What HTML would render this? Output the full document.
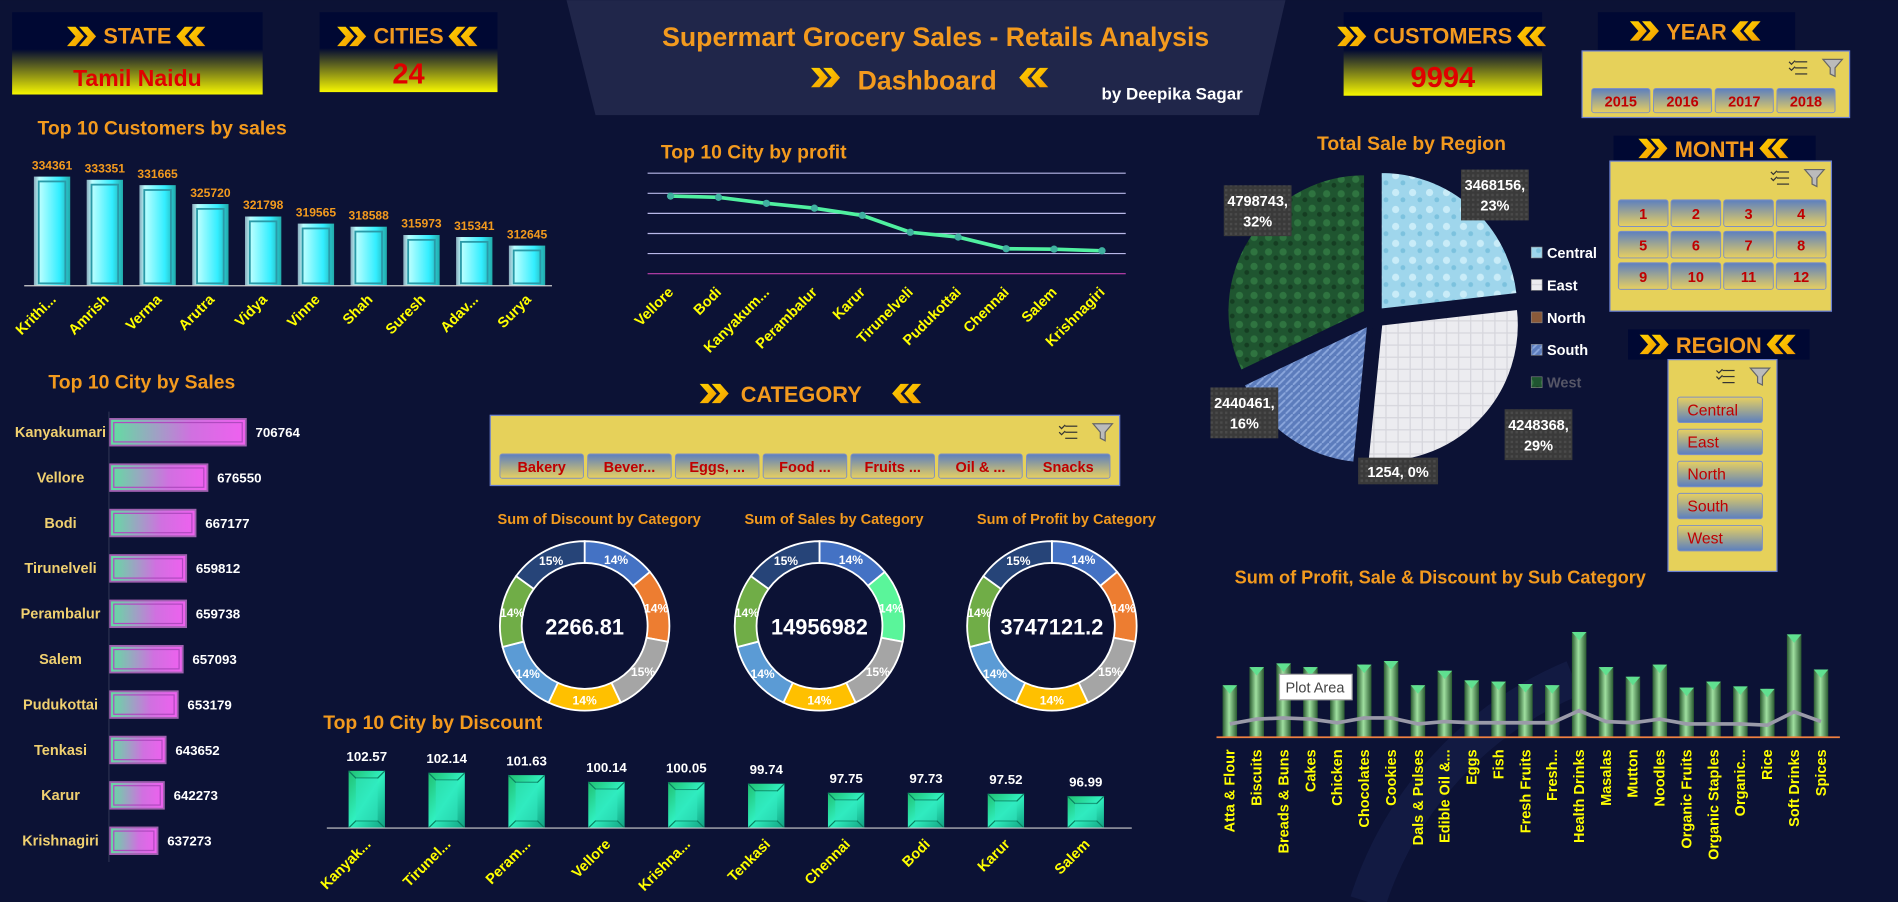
<!DOCTYPE html>
<html><head><meta charset="utf-8"><title>Supermart Grocery Sales Dashboard</title>
<style>
html,body{margin:0;padding:0;background:#0c1235;overflow:hidden}
svg{display:block;font-family:"Liberation Sans",sans-serif}
.t{font-family:"Liberation Sans",sans-serif;font-weight:bold}
</style></head>
<body>
<svg id="dash" width="1898" height="902" viewBox="0 0 1568 745" xmlns="http://www.w3.org/2000/svg">
<defs>
<linearGradient id="kpi" x1="0" y1="0" x2="0" y2="1"><stop offset="0" stop-color="#000833"/><stop offset="0.45" stop-color="#000833"/><stop offset="1" stop-color="#f7f700"/></linearGradient>
<linearGradient id="chev" x1="0" y1="0" x2="1" y2="1"><stop offset="0" stop-color="#ffd400"/><stop offset="1" stop-color="#f39a00"/></linearGradient>
<linearGradient id="cyan" x1="0" y1="0" x2="1" y2="0"><stop offset="0" stop-color="#8ab"/><stop offset="0.15" stop-color="#bff"/><stop offset="0.7" stop-color="#3ef"/><stop offset="1" stop-color="#2aa"/></linearGradient>
<linearGradient id="pink" x1="0" y1="0" x2="1" y2="0"><stop offset="0" stop-color="#5fe0a0"/><stop offset="0.6" stop-color="#d070e0"/><stop offset="1" stop-color="#f060f0"/></linearGradient>
<linearGradient id="teal" x1="0" y1="0" x2="1" y2="1"><stop offset="0" stop-color="#20c070"/><stop offset="0.5" stop-color="#30f0c0"/><stop offset="1" stop-color="#10a080"/></linearGradient>
<linearGradient id="green" x1="0" y1="0" x2="1" y2="0"><stop offset="0" stop-color="#2a5a30"/><stop offset="0.45" stop-color="#a0e0a0"/><stop offset="1" stop-color="#2a5a30"/></linearGradient>
<linearGradient id="btn" x1="0" y1="0" x2="0" y2="1"><stop offset="0" stop-color="#5b7fc0"/><stop offset="1" stop-color="#e8d060"/></linearGradient>
<linearGradient id="btn2" x1="0" y1="0" x2="0" y2="1"><stop offset="0" stop-color="#e8d060"/><stop offset="1" stop-color="#5b7fc0"/></linearGradient>
<pattern id="water" width="14" height="14" patternUnits="userSpaceOnUse"><rect width="14" height="14" fill="#9fd6ec"/><circle cx="5" cy="5" r="3" fill="#c9ecf8"/><circle cx="11" cy="11" r="2" fill="#7cc2de"/></pattern>
<pattern id="paper" width="10" height="10" patternUnits="userSpaceOnUse"><rect width="10" height="10" fill="#ececf0"/><path d="M0 5 L10 5 M5 0 L5 10" stroke="#d6d6dc" stroke-width="1"/></pattern>
<pattern id="denim" width="6" height="6" patternUnits="userSpaceOnUse"><rect width="6" height="6" fill="#5c7cbc"/><path d="M0 6 L6 0" stroke="#8aa6dc" stroke-width="1.5"/></pattern>
<pattern id="leaf" width="12" height="12" patternUnits="userSpaceOnUse"><rect width="12" height="12" fill="#1f5530"/><circle cx="4" cy="4" r="3" fill="#2f7440"/><circle cx="10" cy="9" r="2" fill="#153d22"/></pattern>
<pattern id="lbl" width="4" height="4" patternUnits="userSpaceOnUse"><rect width="4" height="4" fill="#3a3a3a"/><rect width="2" height="2" fill="#4a4a4a"/></pattern>
</defs>
<rect width="1568" height="745" fill="#0c1235"/>
<path d="M1130 745 A300 300 0 0 1 1300 560" stroke="#121a42" stroke-width="30" fill="none"/>

<g>
<polygon points="468,0 1062,0 1040,95 492,95" fill="#20264a"/>
<text class="t" x="773" y="38" text-anchor="middle" font-size="22" fill="#f39a1e" textLength="452" lengthAdjust="spacingAndGlyphs">Supermart Grocery Sales - Retails Analysis</text>
<text class="t" x="766" y="74" text-anchor="middle" font-size="22" fill="#f39a1e">Dashboard</text>
<text class="t" x="910" y="82" font-size="14" fill="#ffffff">by Deepika Sagar</text>
</g>

<g id="kpis"></g>
<g id="slicers"></g>
<g id="charts"></g>
</svg>
<script>
const NS='http://www.w3.org/2000/svg';
const root=document.getElementById('charts');
function mk(tag,attrs,parent,txt){const e=document.createElementNS(NS,tag);for(const k in attrs)e.setAttribute(k,attrs[k]);if(txt!==undefined)e.textContent=txt;(parent||root).appendChild(e);return e;}

// ---------- data ----------
const custNames=["Krithi...","Amrish","Verma","Arutra","Vidya","Vinne","Shah","Suresh","Adav...","Surya"];
const custSales=[334361,333351,331665,325720,321798,319565,318588,315973,315341,312645];
const profitCities=["Vellore","Bodi","Kanyakum...","Perambalur","Karur","Tirunelveli","Pudukottai","Chennai","Salem","Krishnagiri"];
const profitValues=[169300,169000,167500,166300,164500,160300,159100,156200,156100,155700];
const profitTicks=[150000,155000,160000,165000,170000,175000];
const salesCities=["Kanyakumari","Vellore","Bodi","Tirunelveli","Perambalur","Salem","Pudukottai","Tenkasi","Karur","Krishnagiri"];
const salesValues=[706764,676550,667177,659812,659738,657093,653179,643652,642273,637273];
const discCities=["Kanyak...","Tirunel...","Peram...","Vellore","Krishna...","Tenkasi","Chennai","Bodi","Karur","Salem"];
const discValues=[102.57,102.14,101.63,100.14,100.05,99.74,97.75,97.73,97.52,96.99];
const regionNames=["Central","East","North","South","West"];
const regionSales=[3468156,4248368,1254,2440461,4798743];
const regionPct=["23%","29%","0%","16%","32%"];
const catShares=[14,14,15,14,14,14,15];
const donutTitles=["Sum of Discount  by Category","Sum of Sales by Category","Sum of Profit by Category"];
const donutTotals=["2266.81","14956982","3747121.2"];
const subCats=["Atta & Flour","Biscuits","Breads & Buns","Cakes","Chicken","Chocolates","Cookies","Dals & Pulses","Edible Oil &...","Eggs","Fish","Fresh Fruits","Fresh...","Health Drinks","Masalas","Mutton","Noodles","Organic Fruits","Organic Staples","Organic...","Rice","Soft Drinks","Spices"];
const subSales=[516000,696000,732000,696000,588000,720000,756000,516000,660000,564000,552000,528000,516000,1044000,696000,600000,720000,492000,552000,504000,480000,1020000,672000];
const subProfit=[132000,180000,192000,180000,144000,192000,192000,132000,156000,144000,144000,144000,144000,264000,156000,144000,180000,132000,132000,132000,120000,252000,156000];

// ---------- helpers ----------
function chevrons(x,y,dir,parent){
  for(let k=0;k<2;k++){
    const ox=x+k*10;
    const pts=dir>0?`${ox},${y} ${ox+7},${y} ${ox+14},${y+8} ${ox+7},${y+16} ${ox},${y+16} ${ox+7},${y+8}`
                   :`${ox+14},${y} ${ox+7},${y} ${ox},${y+8} ${ox+7},${y+16} ${ox+14},${y+16} ${ox+7},${y+8}`;
    const p=mk('polygon',{points:pts,fill:'url(#chev)'},parent);
    
    
  }
}
chevrons(670,56,1,root);
chevrons(842,56,-1,root);
function title(x,y,txt,name,size){
  const t=mk('text',{x:x,y:y,'font-size':size||16,fill:'#f39a1e',class:'t'},root,txt);
  
  
  return t;
}

// ---------- KPIs ----------
const kp=document.getElementById('kpis');
function kpi(x,y,w,h,label,val,name,vs){
  const g=mk('g',{},kp);
  
  
  mk('rect',{x:x,y:y,width:w,height:h,fill:'url(#kpi)'},g);
  const cx=x+w/2;
  const t=mk('text',{x:cx,y:y+26,'font-size':18,fill:'#f39a1e','text-anchor':'middle',class:'t'},g,label);
  const tw=t.getComputedTextLength();
  chevrons(cx-tw/2-30,y+12,1,g);
  chevrons(cx+tw/2+4,y+12,-1,g);
  const v=mk('text',{x:cx,y:y+h-7,'font-size':vs,fill:'#e00000','text-anchor':'middle',class:'t'},g,val);
  
  
}
kpi(10,10,207,68,'STATE','Tamil Naidu','state-card',19);
kpi(264,10,147,66,'CITIES','24','cities-card',24);
kpi(1110,10,164,69,'CUSTOMERS','9994','customers-card',24);

// ---------- slicers ----------
const sl=document.getElementById('slicers');
function slicerHead(x,y,w,h,label,name){
  const g=mk('g',{},sl);
  
  
  mk('rect',{x:x,y:y,width:w,height:h,fill:'#000833'},g);
  const cx=x+w/2;
  const t=mk('text',{x:cx,y:y+h/2+7,'font-size':18,fill:'#f39a1e','text-anchor':'middle',class:'t'},g,label);
  const tw=t.getComputedTextLength();
  chevrons(cx-tw/2-30,y+h/2-8,1,g);
  chevrons(cx+tw/2+4,y+h/2-8,-1,g);
}
function slicerBody(x,y,w,h,name){
  const g=mk('g',{},sl);
  
  
  mk('rect',{x:x,y:y,width:w,height:h,fill:'#e6d15a',stroke:'#6a7fd0','stroke-width':1},g);
  const ix=x+w-50, iy=y+6;
  for(let k=0;k<3;k++) mk('line',{x1:ix+5,y1:iy+3+k*5,x2:ix+15,y2:iy+3+k*5,stroke:'#333','stroke-width':1},g);
  mk('path',{d:`M${ix} ${iy+3} l2 2 l3 -3 M${ix} ${iy+8} l2 2 l3 -3`,stroke:'#333',fill:'none'},g);
  mk('path',{d:`M${ix+28} ${iy+1} h16 l-6 7 v7 l-4 -2 v-5 z`,fill:'#bbb',stroke:'#666'},g);
  return g;
}
function button(g,x,y,w,h,label,name){
  const b=mk('g',{},g);
  
  
  mk('rect',{x:x,y:y,width:w,height:h,fill:'url(#btn)',stroke:'#8090c0','stroke-width':0.8,rx:2},b);
  mk('text',{x:x+w/2,y:y+h/2+5,'font-size':12,fill:'#c00000','text-anchor':'middle',class:'t'},b,label);
}
slicerHead(1320,10,163,31,'YEAR','year-slicer-header');
let gy=slicerBody(1307,42,221,55,'year-slicer');
["2015","2016","2017","2018"].forEach((yv,i)=>button(gy,1315+i*51,73,48,20,yv,'year-button'));
slicerHead(1333,112,167,21,'MONTH','month-slicer-header');
let gm=slicerBody(1330,133,183,124,'month-slicer');
for(let m=0;m<12;m++){button(gm,1337+(m%4)*43.5,165+Math.floor(m/4)*26,41,22,String(m+1),'month-button');}
slicerHead(1345,272,150,25,'REGION','region-slicer-header');
let gr=slicerBody(1378,297,90,175,'region-slicer');
regionNames.forEach((r,i)=>{
  const b=mk('g',{},gr);
  
  
  mk('rect',{x:1386,y:328+i*26.5,width:70,height:21,fill:'url(#btn2)',stroke:'#8090c0','stroke-width':0.8,rx:2},b);
  mk('text',{x:1394,y:343+i*26.5,'font-size':13,fill:'#c00000'},b,r);
});
title(612,332,'CATEGORY','category-slicer-header',18);
chevrons(578,317,1,root); chevrons(737,317,-1,root);
let gc=slicerBody(405,343,520,58,'category-slicer');
["Bakery","Bever...","Eggs, ...","Food ...","Fruits ...","Oil & ...","Snacks"].forEach((c,i)=>button(gc,413+i*72.5,375,69,20,c,'category-button'));

// ---------- Top 10 customers ----------
title(31,111,'Top 10 Customers by sales','customers-chart-title',16);
const cyB=236, cyMin=300000, cyK=0.002625;
const cx0=43, cdx=43.6;
custSales.forEach((v,i)=>{
  const x=cx0+i*cdx, h=(v-cyMin)*cyK;
  const g=mk('g',{});
  
  
  mk('rect',{x:x-15,y:cyB-h,width:30,height:h,fill:'url(#cyan)'},g);
  mk('rect',{x:x-11,y:cyB-h+4,width:22,height:h-6,fill:'none',stroke:'#2a9aa8','stroke-width':1.5},g);
  const t=mk('text',{x:x,y:cyB-h-6,'font-size':10,fill:'#f39a1e','text-anchor':'middle',class:'t'},root,String(v));
  
  
  const l=mk('text',{x:x+4,y:cyB+12,'font-size':12,fill:'#ffff00','text-anchor':'end',class:'t',transform:`rotate(-45 ${x+4} ${cyB+12})`},root,custNames[i]);
  
  
});
mk('line',{x1:20,y1:cyB,x2:456,y2:cyB,stroke:'#d0d0d0','stroke-width':1});

// ---------- Top 10 City by profit ----------
title(546,131,'Top 10 City by profit','profit-chart-title',16);
const pB=226, pMin=150000, pK=83/25000, px0=554, pdx=39.6;
profitTicks.forEach((tv,i)=>{
  const y=pB-(tv-pMin)*pK;
  const l=mk('line',{x1:535,y1:y,x2:930,y2:y,stroke:i===0?'#c040b0':'#b8b8e8','stroke-width':1});
  
  
});
let pts=profitValues.map((v,i)=>`${px0+i*pdx},${pB-(v-pMin)*pK}`).join(' ');
const pl=mk('polyline',{points:pts,fill:'none',stroke:'#50f0a0','stroke-width':3});


profitValues.forEach((v,i)=>{
  const c=mk('circle',{cx:px0+i*pdx,cy:pB-(v-pMin)*pK,r:3,fill:'#40b0a0'});
  
  
  const x=px0+i*pdx;
  const l=mk('text',{x:x+3,y:pB+16,'font-size':12,fill:'#ffff00','text-anchor':'end',class:'t',transform:`rotate(-45 ${x+3} ${pB+16})`},root,profitCities[i]);
  
  
});

// ---------- Pie ----------
title(1088,124,'Total Sale by Region','region-pie-title',16);
const pcx=1135, pcy=262, pr=113;
const pieFills=['url(#water)','url(#paper)','#8a5a3a','url(#denim)','url(#leaf)'];
const totalR=regionSales.reduce((a,b)=>a+b,0);
let ang=-90;
regionSales.forEach((v,i)=>{
  const sweep=v/totalR*360;
  const a0=ang*Math.PI/180, a1=(ang+sweep)*Math.PI/180, am=(ang+sweep/2)*Math.PI/180;
  const ox=pcx+Math.cos(am)*9, oy=pcy+Math.sin(am)*9;
  const large=sweep>180?1:0;
  const d=`M${ox} ${oy} L${ox+pr*Math.cos(a0)} ${oy+pr*Math.sin(a0)} A${pr} ${pr} 0 ${large} 1 ${ox+pr*Math.cos(a1)} ${oy+pr*Math.sin(a1)} Z`;
  const p=mk('path',{d:d,fill:pieFills[i],stroke:'#0c1235','stroke-width':1});
  
  
  ang+=sweep;
});
[[1207,140,0],[1243,338,1],[1122,378,2],[1000,320,3],[1011,153,4]].forEach(([x,y,i])=>{
  const g=mk('g',{});
  
  
  const pct=regionPct[i];
  const one=i===2;
  mk('rect',{x:x,y:y,width:one?66:56,height:one?22:42,fill:'url(#lbl)'},g);
  if(one){mk('text',{x:x+33,y:y+16,'font-size':12,fill:'#fff','text-anchor':'middle',class:'t'},g,regionSales[i]+', '+pct);}
  else{mk('text',{x:x+28,y:y+17,'font-size':12,fill:'#fff','text-anchor':'middle',class:'t'},g,regionSales[i]+',');
       mk('text',{x:x+28,y:y+34,'font-size':12,fill:'#fff','text-anchor':'middle',class:'t'},g,pct);}
});
regionNames.forEach((r,i)=>{
  const g=mk('g',{});
  
  
  mk('rect',{x:1265,y:204+i*26.8,width:9,height:9,fill:pieFills[i],stroke:'#888','stroke-width':0.5},g);
  mk('text',{x:1278,y:213+i*26.8,'font-size':12,fill:i===4?'#556':'#fff',class:'t'},g,r);
});

// ---------- Top 10 City by Sales ----------
title(40,321,'Top 10 City by Sales','city-sales-title',16);
const sX=91, sMin=600000, sK=0.00105, sy0=357, sdy=37.5;
mk('line',{x1:90,y1:340,x2:90,y2:712,stroke:'#2a3050','stroke-width':1});
salesValues.forEach((v,i)=>{
  const y=sy0+i*sdy, w=(v-sMin)*sK;
  const g=mk('g',{});
  
  
  mk('rect',{x:sX,y:y-11,width:w,height:22,fill:'url(#pink)',stroke:'#a060b0','stroke-width':1.5},g);
  mk('rect',{x:sX+3,y:y-8,width:w-6,height:16,fill:'none',stroke:'#b04ac0','stroke-width':1},g);
  const t=mk('text',{x:sX+w+8,y:y+4,'font-size':11,fill:'#fff',class:'t'},root,String(v));
  
  
  const l=mk('text',{x:50,y:y+4,'font-size':12,fill:'#f0d070','text-anchor':'middle',class:'t'},root,salesCities[i]);
  
  
});

// ---------- Donuts ----------
const dColors=[['#4472c4','#ed7d31','#a5a5a5','#ffc000','#5b9bd5','#70ad47','#264478'],
               ['#4472c4','#5af59a','#a5a5a5','#ffc000','#5b9bd5','#70ad47','#264478'],
               ['#4472c4','#ed7d31','#a5a5a5','#ffc000','#5b9bd5','#70ad47','#264478']];
[483,677,869].forEach((dcx,k)=>{
  const dcy=517, ro=70, ri=52;
  const tt=mk('text',{x:dcx+12,y:433,'font-size':12,fill:'#f39a1e','text-anchor':'middle',class:'t'},root,donutTitles[k]);
  
  
  const tot=catShares.reduce((a,b)=>a+b,0);
  let a=-90;
  catShares.forEach((s,i)=>{
    const sw=s/tot*360, a0=a*Math.PI/180, a1=(a+sw)*Math.PI/180, am=(a+sw/2)*Math.PI/180;
    const d=`M${dcx+ro*Math.cos(a0)} ${dcy+ro*Math.sin(a0)} A${ro} ${ro} 0 0 1 ${dcx+ro*Math.cos(a1)} ${dcy+ro*Math.sin(a1)} L${dcx+ri*Math.cos(a1)} ${dcy+ri*Math.sin(a1)} A${ri} ${ri} 0 0 0 ${dcx+ri*Math.cos(a0)} ${dcy+ri*Math.sin(a0)} Z`;
    const p=mk('path',{d:d,fill:dColors[k][i],stroke:'#fff','stroke-width':1.5});
    
    
    const lt=mk('text',{x:dcx+61*Math.cos(am),y:dcy+61*Math.sin(am)+4,'font-size':10,fill:'#fff','text-anchor':'middle',class:'t'},root,s+'%');
    
    
    a+=sw;
  });
  const c=mk('text',{x:dcx,y:dcy+7,'font-size':18,fill:'#fff','text-anchor':'middle',class:'t'},root,donutTotals[k]);
  
  
});

// ---------- Discount bars ----------
title(267,602,'Top 10 City by Discount','city-discount-title',16);
const dB=684, dMin=90, dK=3.76, dx0=303, ddx=66;
discValues.forEach((v,i)=>{
  const x=dx0+i*ddx, h=(v-dMin)*dK;
  const g=mk('g',{});
  
  
  mk('rect',{x:x-15,y:dB-h,width:30,height:h,fill:'url(#teal)'},g);
  mk('path',{d:`M${x-15} ${dB-h} L${x-9} ${dB-h+6} L${x+9} ${dB-h+6} L${x+15} ${dB-h} M${x-15} ${dB} L${x-9} ${dB-6} L${x+9} ${dB-6} L${x+15} ${dB}`,stroke:'#0a8060',fill:'none','stroke-width':1},g);
  mk('rect',{x:x-9,y:dB-h+6,width:18,height:h-12,fill:'#30e8c0',opacity:0.6},g);
  const t=mk('text',{x:x,y:dB-h-8,'font-size':11,fill:'#fff','text-anchor':'middle',class:'t'},root,v.toFixed(2));
  
  
  const l=mk('text',{x:x+4,y:dB+14,'font-size':12,fill:'#ffff00','text-anchor':'end',class:'t',transform:`rotate(-45 ${x+4} ${dB+14})`},root,discCities[i]);
  
  
});
mk('line',{x1:270,y1:dB,x2:935,y2:dB,stroke:'#d0d0d0','stroke-width':1});

// ---------- Sub category ----------
title(1020,482,'Sum of Profit, Sale & Discount by Sub Category','subcategory-chart-title',15);
const sbB=609, sbK=1/12000, sbx0=1016, sbdx=22.2;
subSales.forEach((v,i)=>{
  const x=sbx0+i*sbdx, h=v*sbK;
  const g=mk('g',{});
  
  
  mk('rect',{x:x-6,y:sbB-h,width:12,height:h,fill:'url(#green)'},g);
  mk('polygon',{points:`${x-6},${sbB-h} ${x+6},${sbB-h} ${x},${sbB-h+7}`,fill:'#60e090'},g);
  const l=mk('text',{x:x+4,y:sbB+10,'font-size':12,fill:'#ffff00','text-anchor':'end',class:'t',transform:`rotate(-90 ${x+4} ${sbB+10})`},root,subCats[i]);
  
  
});
mk('line',{x1:1005,y1:sbB,x2:1520,y2:sbB,stroke:'#f08040','stroke-width':1.5});
const spl=mk('polyline',{points:subProfit.map((v,i)=>`${sbx0+i*sbdx},${sbB-v*sbK}`).join(' '),fill:'none',stroke:'#9a9aa8','stroke-width':3});


const tip=mk('g',{});


mk('rect',{x:1057,y:557,width:60,height:21,fill:'#fff',stroke:'#aaa'},tip);
mk('text',{x:1062,y:572,'font-size':12,fill:'#444'},tip,'Plot Area');
</script>
</body></html>
